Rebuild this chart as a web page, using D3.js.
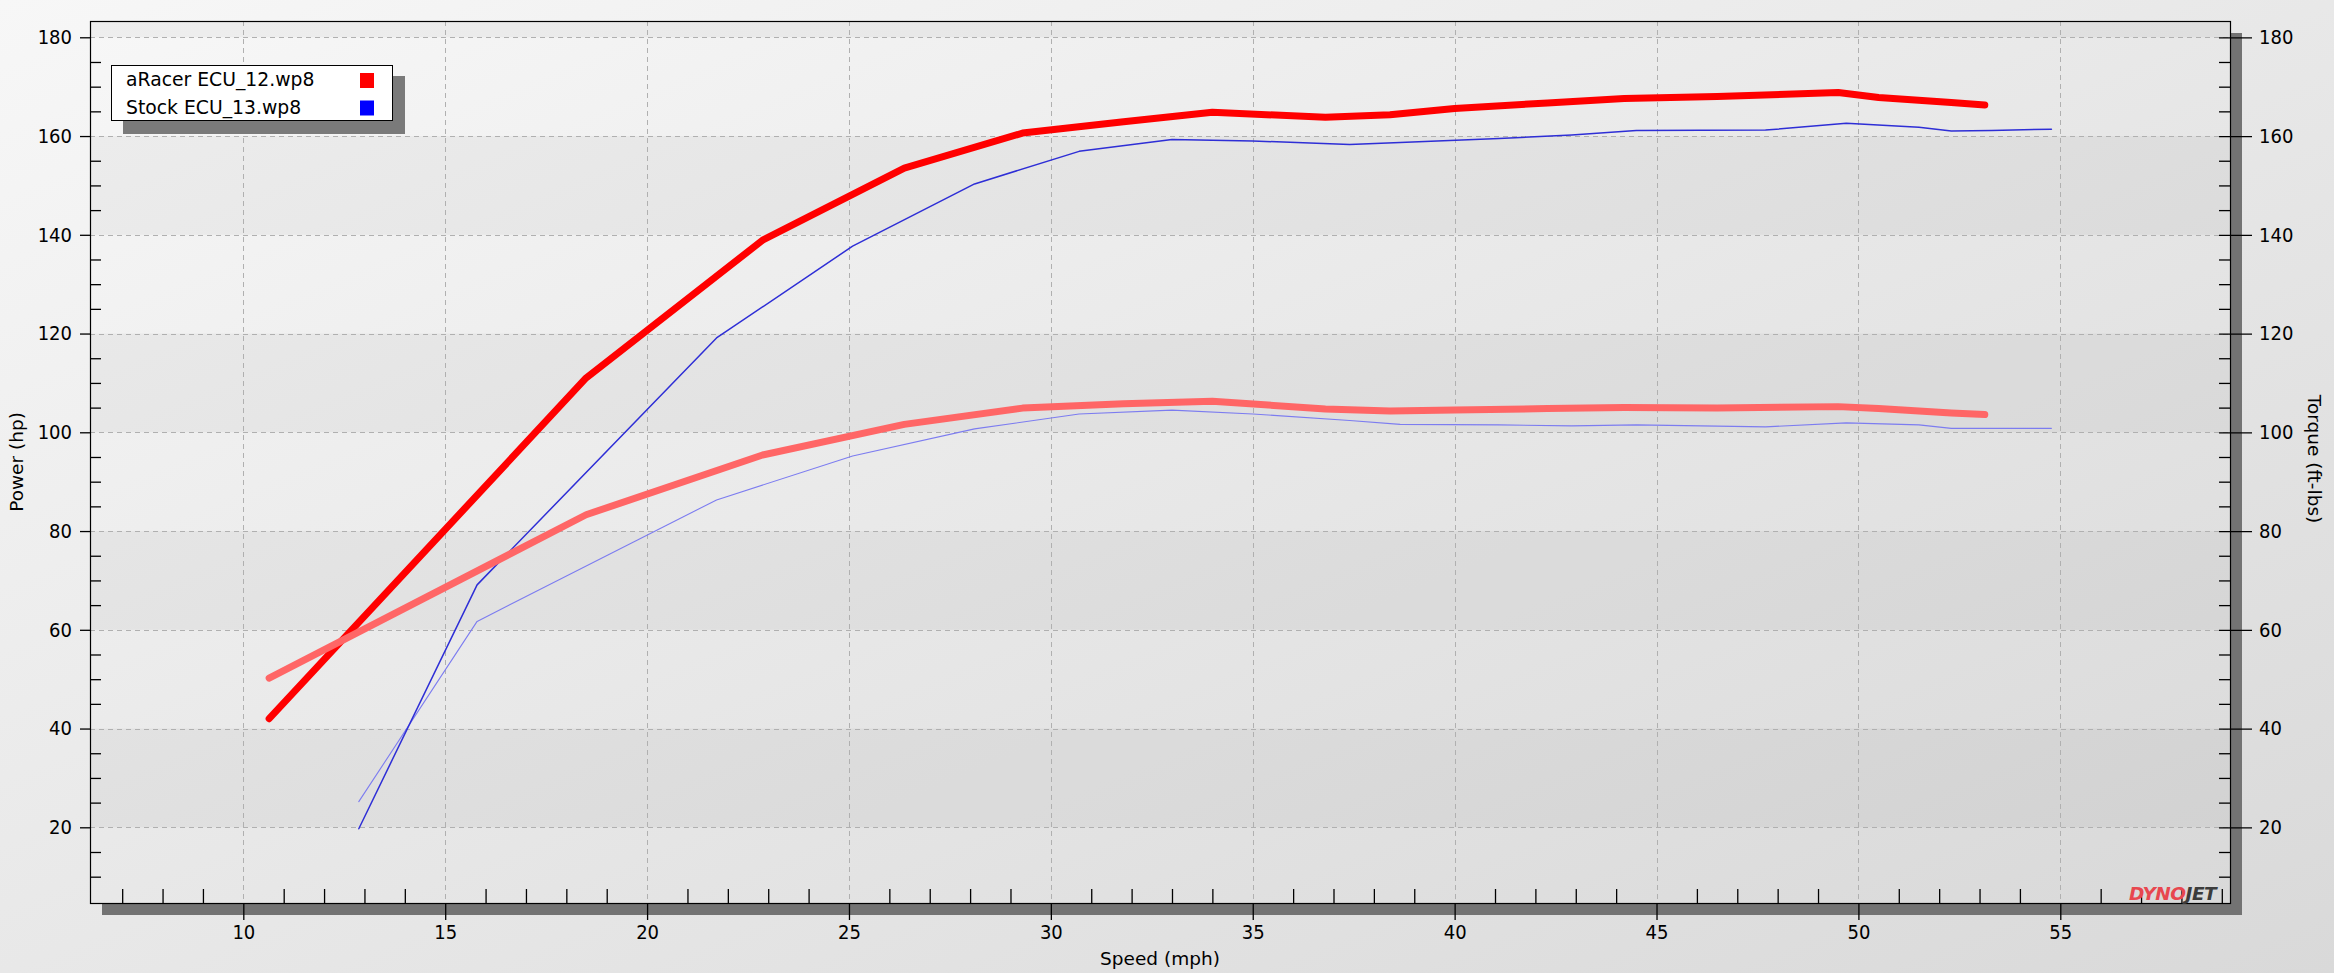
<!DOCTYPE html>
<html>
<head>
<meta charset="utf-8">
<script src="https://cdn.jsdelivr.net/npm/d3@7"></script>
<style>
  html, body { margin: 0; padding: 0; overflow: hidden; }
  svg { display: block; }
  .tick text { font-family: "DejaVu Sans Condensed", "DejaVu Sans", sans-serif; font-stretch: condensed; font-size: 20px; fill: #000; }
</style>
</head>
<body>
<svg id="chart" width="2334" height="973"></svg>
<script>
// ---------------- data ----------------
const legendLabels = ["aRacer ECU_12.wp8", "Stock ECU_13.wp8"];
const xTickValues = [10, 15, 20, 25, 30, 35, 40, 45, 50, 55];
const yTickValues = [20, 40, 60, 80, 100, 120, 140, 160, 180];

const aracerSpeed  = [10.64, 18.49, 22.86, 26.37, 29.3, 31.8, 34.0, 36.8, 38.4, 40.0, 42.3, 44.2, 46.5, 49.5, 50.5, 52.3, 53.13];
const aracerPower  = [42.0, 111.0, 138.9, 153.5, 160.6, 162.9, 164.8, 163.8, 164.3, 165.6, 166.7, 167.6, 168.0, 168.8, 167.8, 166.8, 166.3];
const aracerTorque = [50.2, 83.3, 95.4, 101.6, 104.9, 105.8, 106.3, 104.7, 104.3, 104.5, 104.8, 105.0, 104.9, 105.2, 104.8, 103.9, 103.6];

const stockSpeed  = [12.86, 15.79, 21.72, 25.09, 28.11, 30.7, 33.0, 35.0, 37.4, 38.65, 41.1, 42.9, 44.5, 47.7, 49.7, 51.5, 52.3, 53.3, 54.78];
const stockPower  = [19.7, 69.1, 119.1, 137.7, 150.3, 156.9, 159.3, 159.0, 158.3, 158.7, 159.5, 160.2, 161.1, 161.2, 162.6, 161.8, 161.0, 161.1, 161.4];
const stockTorque = [25.2, 61.7, 86.3, 95.2, 100.7, 103.7, 104.5, 103.7, 102.4, 101.6, 101.5, 101.3, 101.5, 101.1, 101.9, 101.5, 100.8, 100.8, 100.8];

// ---------------- layout ----------------
const W = 2334, H = 973;
const P = { left: 90, top: 21, right: 2230, bottom: 903 };

const svg = d3.select("#chart");
const defs = svg.append("defs");
const grad = defs.append("linearGradient").attr("id", "bg")
  .attr("x1", 0).attr("y1", 0).attr("x2", 1).attr("y2", 1);
grad.append("stop").attr("offset", "0%").attr("stop-color", "#f7f7f7");
grad.append("stop").attr("offset", "100%").attr("stop-color", "#d9d9d9");

svg.append("rect").attr("width", W).attr("height", H).attr("fill", "url(#bg)");

const x = d3.scaleLinear().domain([6.203, 59.203]).range([P.left, P.right]);
const y = d3.scaleLinear().domain([4.67, 183.3]).range([P.bottom, P.top]);

// plot shadow
svg.append("rect")
  .attr("x", P.left + 12).attr("y", P.top + 12)
  .attr("width", P.right - P.left).attr("height", P.bottom - P.top)
  .attr("fill", "#737373");

// plot background
svg.append("rect")
  .attr("x", P.left).attr("y", P.top)
  .attr("width", P.right - P.left).attr("height", P.bottom - P.top)
  .attr("fill", "url(#bg)");

// alternating bands
const bandEdges = [[20, 40], [60, 80], [100, 120], [140, 160], [180, 183.3]];
svg.append("g").selectAll("rect").data(bandEdges).join("rect")
  .attr("x", P.left).attr("width", P.right - P.left)
  .attr("y", d => y(d[1])).attr("height", d => y(d[0]) - y(d[1]))
  .attr("fill", "#000").attr("fill-opacity", 0.035);

// grid
const grid = svg.append("g").attr("stroke", "#b0b0b0").attr("stroke-width", 1).attr("stroke-dasharray", "5,4").attr("fill", "none");
grid.selectAll("line.v").data(xTickValues).join("line").attr("class", "v")
  .attr("x1", d => Math.round(x(d)) + 0.5).attr("x2", d => Math.round(x(d)) + 0.5)
  .attr("y1", P.top).attr("y2", P.bottom);
grid.selectAll("line.h").data(yTickValues).join("line").attr("class", "h")
  .attr("y1", d => Math.round(y(d)) + 0.5).attr("y2", d => Math.round(y(d)) + 0.5)
  .attr("x1", P.left).attr("x2", P.right);

// minor tick values
const yMinor = d3.range(10, 180, 5).filter(v => v % 20 !== 0);
const xMinor = d3.range(7, 60, 1).filter(v => v % 5 !== 0);

function styleAxis(g) {
  g.select(".domain").remove();
  g.selectAll(".tick line").attr("stroke", "#000").attr("stroke-width", 1.3);
}

// left axis
svg.append("g").attr("transform", `translate(${P.left},0)`)
  .call(d3.axisLeft(y).tickValues(yTickValues).tickSize(10).tickPadding(8).tickFormat(d3.format("d")))
  .call(styleAxis);
svg.append("g").attr("transform", `translate(${P.left},0)`)
  .call(d3.axisRight(y).tickValues(yMinor).tickSize(11).tickFormat(""))
  .call(styleAxis);

// right axis
svg.append("g").attr("transform", `translate(${P.right - 11},0)`)
  .call(d3.axisRight(y).tickValues(yTickValues).tickSize(33).tickPadding(7).tickFormat(d3.format("d")))
  .call(styleAxis);
svg.append("g").attr("transform", `translate(${P.right},0)`)
  .call(d3.axisLeft(y).tickValues(yMinor).tickSize(11).tickFormat(""))
  .call(styleAxis);

// bottom axis
svg.append("g").attr("transform", `translate(0,${P.bottom})`)
  .call(d3.axisBottom(x).tickValues(xTickValues).tickSize(17).tickPadding(5).tickFormat(d3.format("d")))
  .call(styleAxis);
svg.append("g").attr("transform", `translate(0,${P.bottom})`)
  .call(d3.axisTop(x).tickValues(xMinor).tickSize(14).tickFormat(""))
  .call(styleAxis);

// frame
svg.append("rect")
  .attr("x", P.left + 0.5).attr("y", P.top + 0.5)
  .attr("width", P.right - P.left).attr("height", P.bottom - P.top)
  .attr("fill", "none").attr("stroke", "#000").attr("stroke-width", 1.2);

// ---------------- series ----------------
function series(xs, ys) { return xs.map((v, i) => [v, ys[i]]); }
const line = d3.line().x(d => x(d[0])).y(d => y(d[1]));

const lines = [
  { data: series(stockSpeed, stockTorque), color: "#7c7cf0", width: 1.1 },
  { data: series(stockSpeed, stockPower), color: "#2e2ed6", width: 1.5 },
  { data: series(aracerSpeed, aracerPower), color: "#ff0000", width: 7 },
  { data: series(aracerSpeed, aracerTorque), color: "#ff6666", width: 7 }
];
svg.append("g").selectAll("path").data(lines).join("path")
  .attr("d", d => line(d.data))
  .attr("fill", "none")
  .attr("stroke", d => d.color)
  .attr("stroke-width", d => d.width)
  .attr("stroke-linecap", "round")
  .attr("stroke-linejoin", "round");

// ---------------- titles ----------------
const titleFont = "'DejaVu Sans', Verdana, sans-serif";
svg.append("text").attr("x", (P.left + P.right) / 2).attr("y", 965)
  .attr("text-anchor", "middle").attr("font-family", titleFont).attr("font-size", 18.5)
  .text("Speed (mph)");
svg.append("text").attr("transform", "translate(23,462) rotate(-90)")
  .attr("text-anchor", "middle").attr("font-family", titleFont).attr("font-size", 18.5)
  .text("Power (hp)");
svg.append("text").attr("transform", "translate(2308,459) rotate(90)")
  .attr("text-anchor", "middle").attr("font-family", titleFont).attr("font-size", 18.5)
  .text("Torque (ft-lbs)");

// ---------------- legend ----------------
const legendColors = ["#ff0000", "#0000ff"];
const lg = svg.append("g");
lg.append("rect").attr("x", 123).attr("y", 76).attr("width", 282).attr("height", 58).attr("fill", "#7a7a7a");
lg.append("rect").attr("x", 111.5).attr("y", 65.5).attr("width", 281).attr("height", 55)
  .attr("fill", "#fff").attr("stroke", "#000").attr("stroke-width", 1);
lg.selectAll("text").data(legendLabels).join("text")
  .attr("x", 126).attr("y", (d, i) => 86 + i * 27.5)
  .attr("font-family", titleFont).attr("font-size", 18.8)
  .text(d => d);
lg.selectAll("rect.sw").data(legendColors).join("rect").attr("class", "sw")
  .attr("x", 360).attr("y", (d, i) => 73 + i * 27.5).attr("width", 14).attr("height", 15)
  .attr("fill", d => d);

// ---------------- logo ----------------
const logo = svg.append("text").attr("x", 2129).attr("y", 900)
  .attr("font-family", "'DejaVu Sans', sans-serif").attr("font-weight", "bold")
  .attr("font-style", "italic").attr("font-size", 18.5)
  .attr("letter-spacing", -0.5);
logo.append("tspan").attr("fill", "#e8474f").text("DYNO");
logo.append("tspan").attr("fill", "#3c3c3c").text("JET");
</script>
</body>
</html>
